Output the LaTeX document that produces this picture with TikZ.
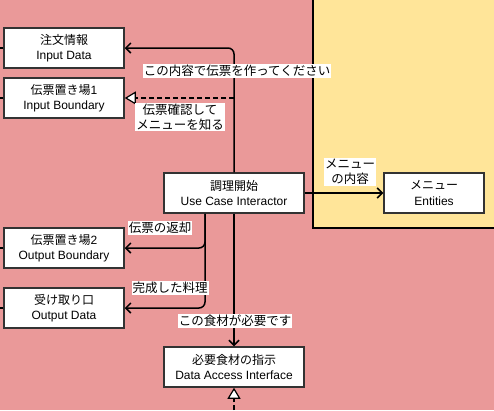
\documentclass[tikz,border=0pt]{standalone}
\usepackage{fontspec}
\setmainfont{Liberation Sans}
\newfontfamily\jp{Noto Sans CJK JP}
\usetikzlibrary{arrows.meta}
\definecolor{pinkbg}{HTML}{EA9999}
\definecolor{yellowbg}{HTML}{FFE599}
\definecolor{boxline}{HTML}{333333}
\tikzset{%
    box/.style={%
        draw=boxline, fill=white, line width=1.5pt,
        minimum width=#1, minimum height=40pt, inner sep=0pt,
        align=center, font=\fontsize{12}{15.5}\selectfont
    },
    flow/.style={%
        line width=1.5pt, rounded corners=6pt,
        -{Straight Barb[length=5pt,width=10pt,line width=1.5pt]}
    },
    realize/.style={%
        line width=1.5pt, dashed, dash pattern=on 5pt off 3pt,
        -{Triangle[open,fill=white,length=11pt,width=13pt,line width=1.2pt]}
    },
    edgelabel/.style={%
        fill=white, inner sep=1pt, align=center,
        font=\fontsize{12.5}{14.5}\selectfont\jp
    }
}

\begin{document}
\begin{tikzpicture}[x=1pt,y=-1pt]
\useasboundingbox (0,0) rectangle (494,410);
% layers
\fill[pinkbg] (0,0) rectangle (494,410);
\fill[yellowbg] (313,0) rectangle (494,228);
\draw[line width=1.5pt] (313,0) -- (313,228) -- (494,228);

% boxes
\node[box=120pt] (inputdata)  at (64,48)  {{\jp 注文情報}\\Input Data};
\node[box=120pt] (inputbnd)   at (64,98)  {{\jp 伝票置き場}1\\Input Boundary};
\node[box=140pt] (interactor) at (234,193) {{\jp 調理開始}\\Use Case Interactor};
\node[box=100pt] (entities)   at (434,193) {{\jp メニュー}\\Entities};
\node[box=120pt] (outputbnd)  at (64,248) {{\jp 伝票置き場}2\\Output Boundary};
\node[box=120pt] (outputdata) at (64,308) {{\jp 受け取り口}\\Output Data};
\node[box=140pt] (dai)        at (234,367) {{\jp 必要食材の指示}\\Data Access Interface};

% connectors
\draw[flow] (interactor.north) |- (inputdata.east);
\coordinate (split) at (interactor.north |- inputbnd.east);
\draw[realize] (split) -- (inputbnd.east);
\draw[flow] (interactor.east) -- (entities.west);
\draw[flow] ([xshift=-29pt]interactor.south) |- (outputbnd.east);
\draw[flow] ([xshift=-29pt]interactor.south) |- (outputdata.east);
\draw[flow] (interactor.south) -- (dai.north);

\coordinate (daisrc) at (234,410);
\draw[realize] (daisrc) -- (dai.south);

% stubs from the left edge
\foreach \n in {inputdata,inputbnd,outputbnd,outputdata}
    \draw[line width=1.5pt] (\n.west) -- ++(-4,0);

% labels
\node[edgelabel] at (237,71)  {この内容で伝票を作ってください};
\node[edgelabel] at (180,117) {伝票確認して\\メニューを知る};
\node[edgelabel] at (350,172) {メニュー\\の内容};
\node[edgelabel] at (160,228) {伝票の返却};
\node[edgelabel] at (170,288) {完成した料理};
\node[edgelabel] at (235,321) {この食材が必要です};
\end{tikzpicture}
\end{document}
